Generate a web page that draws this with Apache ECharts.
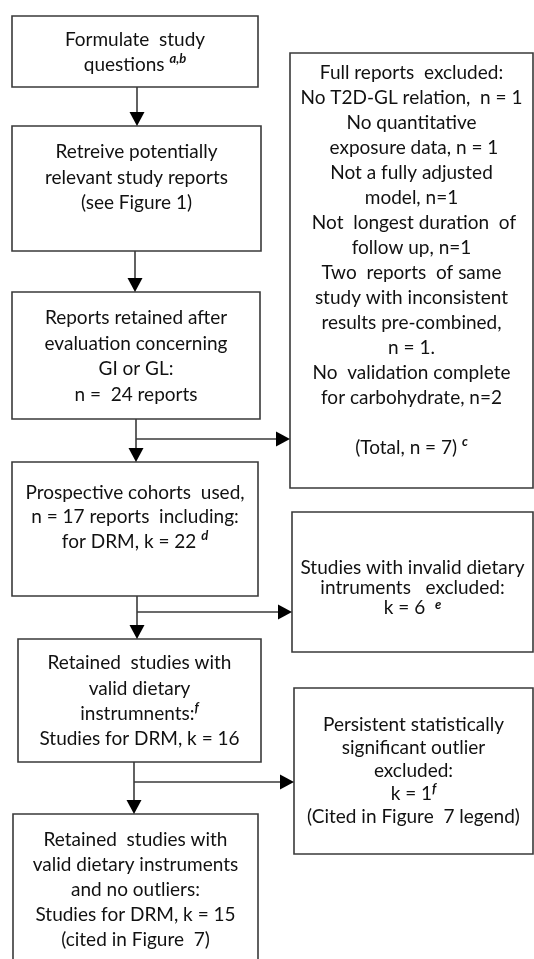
<!DOCTYPE html>
<html>
<head>
<meta charset="utf-8">
<script src="https://cdn.jsdelivr.net/npm/echarts@6/dist/echarts.min.js"></script>
<style>
  html, body { margin: 0; padding: 0; background: #fff; }
  #chart { width: 534px; height: 959px; }
</style>
</head>
<body>
<div id="chart"></div>
<script>
  // box texts, in reading order (left column, then right column)
  const boxTexts = [
    'Formulate  study\nquestions {sup|a,b}',
    'Retreive potentially\nrelevant study reports\n(see Figure 1)',
    'Reports retained after\nevaluation concerning\nGI or GL:\nn =  24 reports',
    'Prospective cohorts  used,\nn = 17 reports  including:\nfor DRM, k = 22 {sup|d}',
    'Retained  studies with\nvalid dietary\ninstrumnents:{sup|f}\nStudies for DRM, k = 16',
    'Retained  studies with\nvalid dietary instruments\nand no outliers:\nStudies for DRM, k = 15\n(cited in Figure  7)',
    'Full reports  excluded:\nNo T2D-GL relation,  n = 1\nNo quantitative\n exposure data, n = 1\nNot a fully adjusted\nmodel, n=1\n Not  longest duration  of\nfollow up, n=1\nTwo  reports  of same\nstudy with inconsistent\nresults pre-combined,\nn = 1.\nNo  validation complete\nfor carbohydrate, n=2\n\n(Total, n = 7) {sup|c}',
    'Studies with invalid dietary\nintruments   excluded:\nk = 6  {sup|e}',
    'Persistent statistically\nsignificant outlier\nexcluded:\nk = 1{sup|f}\n(Cited in Figure  7 legend)'
  ];

  // box layout: x0, y0, x1, y1, text top, line height
  const boxLayout = [
    [12, 16, 258, 87, 27.5, 25],
    [12, 126, 261, 251, 139.5, 25.5],
    [12, 292, 260, 419, 305.5, 25.5],
    [12, 462, 258, 596, 480.5, 24.5],
    [18, 639, 261, 762, 650.5, 25.3],
    [13, 814, 258, 990, 827.5, 25],
    [290, 53, 533, 488, 60.5, 25],
    [292, 512, 533, 652, 558, 20],
    [294, 688, 533, 854, 713.5, 23]
  ];

  // arrows: from x, from y, to x, to y
  const arrows = [
    [137, 87, 137, 126],
    [135, 251, 135, 292],
    [136, 419, 136, 462],
    [136, 439, 290, 439],
    [137, 596, 137, 639],
    [137, 612, 292, 612],
    [134, 762, 134, 814],
    [134, 782, 294, 782]
  ];

  const fontFamily = 'Lato';
  const lineColor = '#3a3a3a';

  const myChart = echarts.init(document.getElementById('chart'));

  const option = {
    backgroundColor: '#fff',
    animation: false,
    grid: { left: 0, right: 0, top: 0, bottom: 0 },
    xAxis: { type: 'value', min: 0, max: 534, show: false },
    yAxis: { type: 'value', min: 0, max: 959, inverse: true, show: false },
    series: [{
      type: 'custom',
      clip: false,
      data: boxLayout,
      renderItem: function (params, api) {
        let p0 = api.coord([api.value(0), api.value(1)]);
        let p1 = api.coord([api.value(2), api.value(3)]);
        let ty = api.coord([0, api.value(4)])[1];
        return {
          type: 'group',
          children: [{
            type: 'rect',
            shape: { x: p0[0], y: p0[1], width: p1[0] - p0[0], height: p1[1] - p0[1] },
            style: { fill: '#fff', stroke: lineColor, lineWidth: 1.6 }
          }, {
            type: 'text',
            style: {
              text: boxTexts[params.dataIndex],
              x: (p0[0] + p1[0]) / 2,
              y: ty,
              align: 'center',
              verticalAlign: 'top',
              fontSize: 19,
              fontFamily: fontFamily,
              lineHeight: api.value(5),
              fill: '#111',
              rich: {
                sup: {
                  fontSize: 13,
                  fontStyle: 'italic',
                  fontWeight: 'bold',
                  fontFamily: fontFamily,
                  verticalAlign: 'top',
                  lineHeight: 13,
                  fill: '#111'
                }
              }
            }
          }]
        };
      }
    }, {
      type: 'custom',
      clip: false,
      data: arrows,
      renderItem: function (params, api) {
        let a = api.coord([api.value(0), api.value(1)]);
        let b = api.coord([api.value(2), api.value(3)]);
        let dx = b[0] - a[0], dy = b[1] - a[1];
        let len = Math.sqrt(dx * dx + dy * dy);
        let ux = dx / len, uy = dy / len;
        let head = 14, half = 7.5;
        let bx = b[0] - ux * head, by = b[1] - uy * head;
        return {
          type: 'group',
          children: [{
            type: 'line',
            shape: { x1: a[0], y1: a[1], x2: bx, y2: by },
            style: { stroke: lineColor, lineWidth: 1.6 }
          }, {
            type: 'polygon',
            shape: {
              points: [
                [b[0], b[1]],
                [bx - uy * half, by + ux * half],
                [bx + uy * half, by - ux * half]
              ]
            },
            style: { fill: '#000' }
          }]
        };
      }
    }]
  };

  myChart.setOption(option, true);
</script>
</body>
</html>
